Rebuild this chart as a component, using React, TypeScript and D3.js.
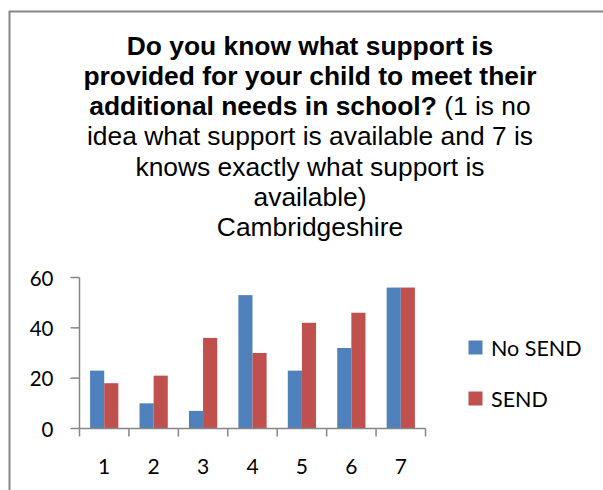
import React from "react";
import * as d3 from "d3";

const categories = ["1", "2", "3", "4", "5", "6", "7"];
const seriesNames = ["No SEND", "SEND"];
const noSend = [23, 10, 7, 53, 23, 32, 56];
const send = [18, 21, 36, 30, 42, 46, 56];
const yTicks = [0, 20, 40, 60];
const colors = ["#4F81BD", "#C0504D"];

const titleBoldLines = [
  "Do you know what support is",
  "provided for your child to meet their",
];
const titleMixedBold = "additional needs in school?";
const titleMixedRegular = " (1 is no";
const titleRegularLines = [
  "idea what support is available and 7 is",
  "knows exactly what support is",
  "available)",
  "Cambridgeshire",
];

export default function App() {
  const W = 603;
  const H = 490;
  const left = 79.5;
  const right = 425.5;
  const top = 277.5;
  const bottom = 428.5;

  const x = d3
    .scaleBand<string>()
    .domain(categories)
    .range([left, right])
    .paddingInner(1.5 / 3.5)
    .paddingOuter(0.75 / 3.5);
  const step = x.step();
  const inner = d3
    .scaleBand<string>()
    .domain(seriesNames)
    .range([0, x.bandwidth()]);
  const y = d3.scaleLinear().domain([0, 60]).range([bottom, top]);

  const data = [noSend, send];
  const titleX = 310;
  const lh = 30.3;
  const b0 = 54.5;
  const titleFont = "'Liberation Sans', Arial, sans-serif";
  const labelFont = "Lato, 'Open Sans', sans-serif";
  const axisColor = "#868686";

  const allLines: React.ReactNode[] = [];
  titleBoldLines.forEach((t, i) => {
    allLines.push(
      <text key={"b" + i} x={titleX} y={b0 + i * lh} textAnchor="middle" fontWeight="bold">
        {t}
      </text>
    );
  });
  allLines.push(
    <text key="mixed" x={titleX} y={b0 + 2 * lh} textAnchor="middle">
      <tspan fontWeight="bold">{titleMixedBold}</tspan>
      <tspan>{titleMixedRegular}</tspan>
    </text>
  );
  titleRegularLines.forEach((t, i) => {
    allLines.push(
      <text key={"r" + i} x={titleX} y={b0 + (3 + i) * lh} textAnchor="middle">
        {t}
      </text>
    );
  });

  return (
    <svg
      width={W}
      height={H}
      style={{ position: "absolute", left: 0, top: 0, background: "#fff" }}
    >
      <rect x={0} y={0} width={W} height={H} fill="#fff" />
      <rect
        x={9.5}
        y={11.5}
        width={W + 20}
        height={H + 20}
        fill="#fff"
        stroke={axisColor}
        strokeWidth={2}
      />
      <g fontFamily={titleFont} fontSize={26.4} fill="#000">
        {allLines}
      </g>

      {/* bars */}
      {data.map((vals, si) =>
        vals.map((v, ci) => (
          <rect
            key={si + "-" + ci}
            x={(x(categories[ci]) ?? 0) + (inner(seriesNames[si]) ?? 0)}
            y={y(v)}
            width={inner.bandwidth()}
            height={y(0) - y(v)}
            fill={colors[si]}
          />
        ))
      )}

      {/* y axis */}
      <line x1={left} x2={left} y1={top} y2={bottom} stroke={axisColor} strokeWidth={1.5} />
      {yTicks.map((t) => (
        <g key={t}>
          <line x1={left - 9} x2={left} y1={y(t)} y2={y(t)} stroke={axisColor} strokeWidth={1.5} />
          <text
            x={53.5}
            y={y(t)}
            textAnchor="end"
            dominantBaseline="central"
            fontFamily={labelFont}
            fontSize={20.5}
            fill="#000"
          >
            {t}
          </text>
        </g>
      ))}

      {/* x axis */}
      <line x1={left} x2={right} y1={bottom} y2={bottom} stroke={axisColor} strokeWidth={1.5} />
      {d3.range(categories.length + 1).map((i) => (
        <line
          key={i}
          x1={left + i * step}
          x2={left + i * step}
          y1={bottom}
          y2={bottom + 8}
          stroke={axisColor}
          strokeWidth={1.5}
        />
      ))}
      {categories.map((c) => (
        <text
          key={c}
          x={(x(c) ?? 0) + x.bandwidth() / 2}
          y={465}
          textAnchor="middle"
          dominantBaseline="central"
          fontFamily={labelFont}
          fontSize={21}
          fill="#000"
        >
          {c}
        </text>
      ))}

      {/* legend */}
      {seriesNames.map((s, i) => (
        <g key={s}>
          <rect x={468.5} y={340.5 + i * 51} width={14} height={14} fill={colors[i]} />
          <text
            x={491}
            y={348 + i * 50.5}
            dominantBaseline="central"
            fontFamily={labelFont}
            fontSize={21.5}
            fill="#000"
          >
            {s}
          </text>
        </g>
      ))}
    </svg>
  );
}
